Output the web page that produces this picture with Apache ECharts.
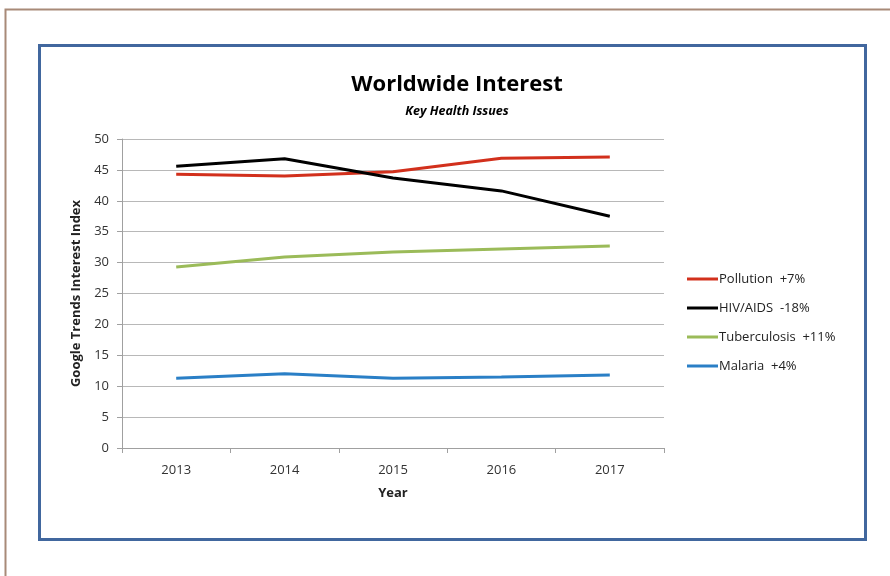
<!DOCTYPE html>
<html>
<head>
<meta charset="utf-8">
<script src="https://cdn.jsdelivr.net/npm/echarts@6/dist/echarts.min.js"></script>
<style>
html,body{margin:0;padding:0;background:#fff;}
#chart{width:890px;height:576px;}
</style>
</head>
<body>
<div id="chart"></div>
<script>
var years = ['2013','2014','2015','2016','2017'];
var seriesNames = ['Pollution  +7%','HIV/AIDS  -18%','Tuberculosis  +11%','Malaria  +4%'];
var pollution = [44.3, 44.0, 44.7, 46.9, 47.1];
var hivAids = [45.6, 46.8, 43.7, 41.6, 37.5];
var tuberculosis = [29.3, 30.9, 31.7, 32.2, 32.7];
var malaria = [11.3, 12.0, 11.3, 11.5, 11.8];
var colors = ['#d2301c', '#000000', '#9bbb59', '#2a7fc6'];

var chart = echarts.init(document.getElementById('chart'));
var font = '"Open Sans", "Liberation Sans", sans-serif';

function line(name, data, c){
    return {
        name: name, type: 'line', data: data,
        symbol: 'none', smooth: false,
        lineStyle: {color: c, width: 3},
        itemStyle: {color: c}
    };
}

chart.setOption({
    animation: false,
    textStyle: {fontFamily: font},
    graphic: [
        {type: 'rect', shape: {x: 5.5, y: 9.5, width: 900, height: 600},
         style: {fill: 'none', stroke: '#a88a78', lineWidth: 2}},
        {type: 'rect', shape: {x: 39.5, y: 45.5, width: 826, height: 494},
         style: {fill: '#fff', stroke: '#41679e', lineWidth: 3}}
    ],
    title: {
        text: 'Worldwide Interest',
        subtext: 'Key Health Issues',
        left: 452, top: 69, textAlign: 'center', itemGap: 9,
        textStyle: {fontFamily: font, fontSize: 22, fontWeight: 'bold', color: '#000'},
        subtextStyle: {fontFamily: font, fontSize: 12.5, fontWeight: 'bold', fontStyle: 'italic', color: '#000'}
    },
    legend: {
        orient: 'vertical', left: 687, top: 270, padding: 0,
        itemWidth: 31, itemHeight: 3, itemGap: 11,
        icon: 'rect',
        data: seriesNames,
        textStyle: {fontFamily: font, fontSize: 13, color: '#222', padding: [0,0,0,-4], lineHeight: 18}
    },
    grid: {left: 122, top: 139, width: 542, height: 309},
    xAxis: {
        type: 'category', data: years, boundaryGap: true,
        name: 'Year', nameLocation: 'middle', nameGap: 39,
        nameTextStyle: {fontFamily: font, fontSize: 13, fontWeight: 'bold', color: '#222'},
        axisLine: {lineStyle: {color: '#a0a0a0', width: 1}},
        axisTick: {show: true, length: 5, lineStyle: {color: '#a0a0a0'}},
        axisLabel: {fontFamily: font, fontSize: 13, color: '#333', margin: 16}
    },
    yAxis: {
        type: 'value', min: 0, max: 50, interval: 5,
        name: 'Google Trends Interest Index', nameLocation: 'middle', nameGap: 33,
        nameTextStyle: {fontFamily: font, fontSize: 13, fontWeight: 'bold', color: '#222'},
        axisLine: {show: true, lineStyle: {color: '#a0a0a0', width: 1}},
        axisTick: {show: true, length: 5, lineStyle: {color: '#a0a0a0'}},
        axisLabel: {fontFamily: font, fontSize: 13, color: '#333', margin: 13},
        splitLine: {lineStyle: {color: '#b8b8b8', width: 1}}
    },
    series: [
        line(seriesNames[0], pollution, colors[0]),
        line(seriesNames[1], hivAids, colors[1]),
        line(seriesNames[2], tuberculosis, colors[2]),
        line(seriesNames[3], malaria, colors[3])
    ]
});
</script>
</body>
</html>
